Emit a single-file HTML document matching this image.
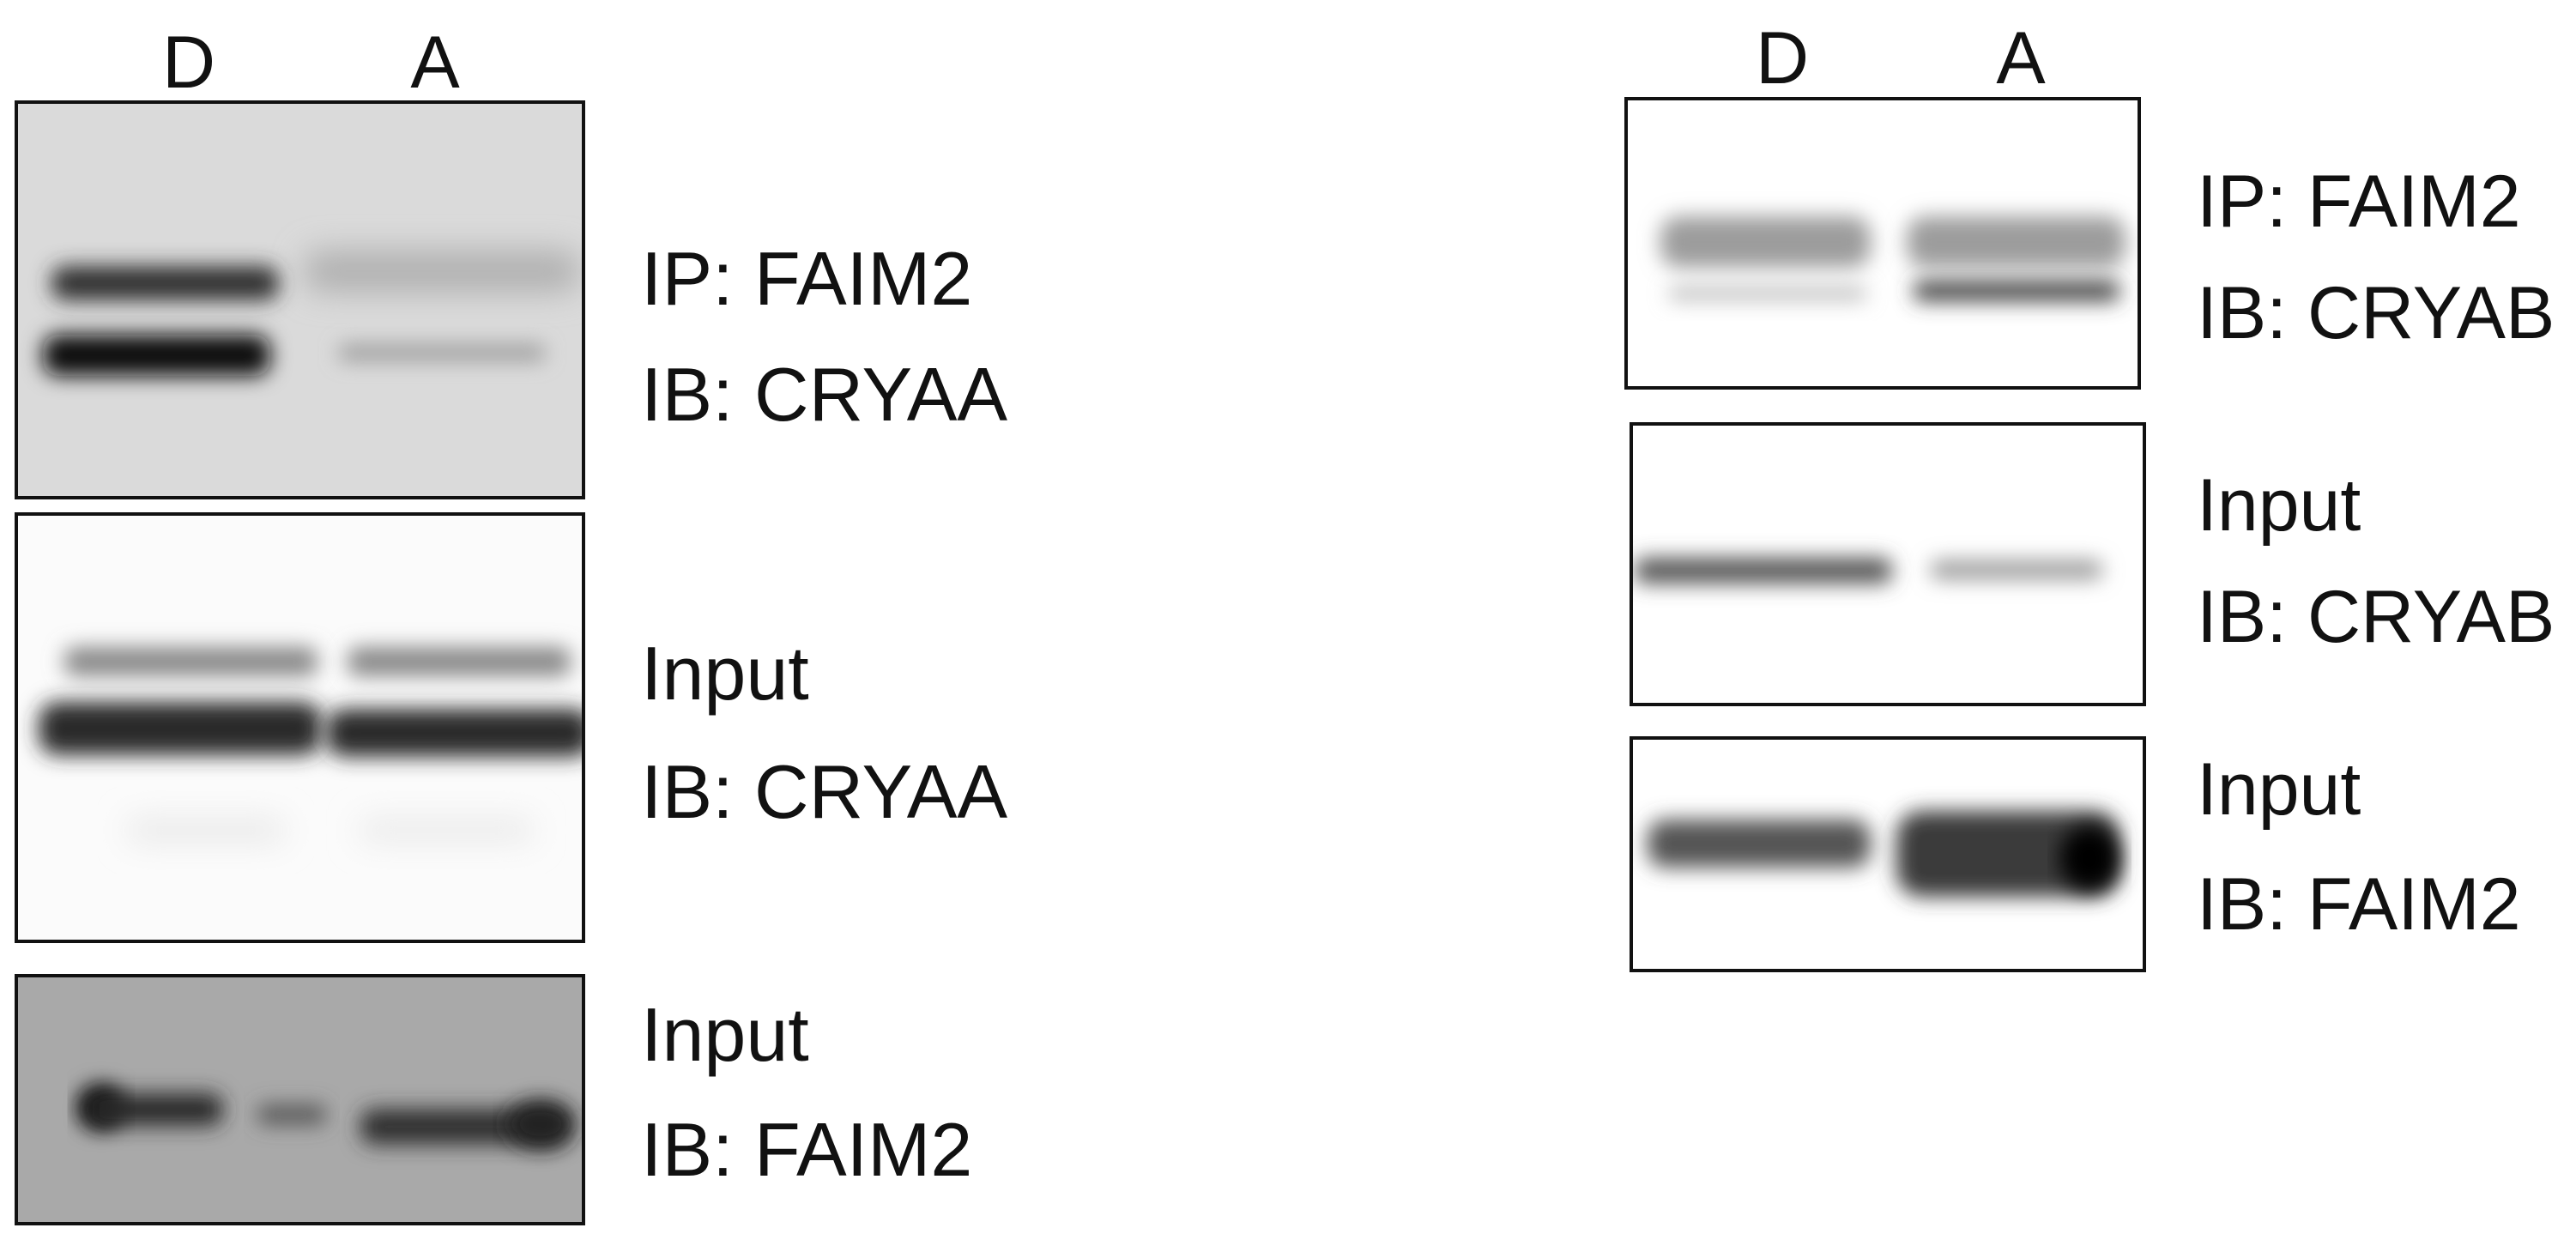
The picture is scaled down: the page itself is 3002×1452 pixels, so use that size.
<!DOCTYPE html>
<html><head><meta charset="utf-8"><style>
html,body{margin:0;padding:0;background:#fff}
svg{display:block}
text{font-family:"Liberation Sans",sans-serif;fill:#111}
</style></head><body>
<svg width="3002" height="1452" viewBox="0 0 3002 1452" xmlns="http://www.w3.org/2000/svg">
<defs>
<filter id="b1" x="-20%" y="-150%" width="140%" height="400%"><feGaussianBlur stdDeviation="12"/></filter>
<filter id="b2" x="-20%" y="-150%" width="140%" height="400%"><feGaussianBlur stdDeviation="18"/></filter>
<clipPath id="c1"><rect x="19" y="119" width="661" height="461"/></clipPath>
<clipPath id="c2"><rect x="19" y="599" width="661" height="498"/></clipPath>
<clipPath id="c3"><rect x="19" y="1137" width="661" height="289"/></clipPath>
<clipPath id="c4"><rect x="1895" y="115" width="598" height="337"/></clipPath>
<clipPath id="c5"><rect x="1901" y="494" width="598" height="327"/></clipPath>
<clipPath id="c6"><rect x="1901" y="860" width="598" height="271"/></clipPath>
</defs>
<g font-size="86" text-anchor="middle">
<text x="220" y="102">D</text><text x="507" y="102">A</text>
<text x="2077" y="97">D</text><text x="2355" y="97">A</text>
</g>
<rect x="19" y="119" width="661" height="461" fill="#dadada"/>
<g clip-path="url(#c1)">
<rect x="60" y="310" width="265" height="40" rx="16" fill="#333" filter="url(#b1)"/>
<rect x="355" y="292" width="320" height="48" rx="18" fill="#b0b0b0" filter="url(#b2)"/>
<rect x="50" y="390" width="265" height="48" rx="18" fill="#0c0c0c" filter="url(#b1)"/>
<rect x="395" y="402" width="240" height="18" rx="7" fill="#999" filter="url(#b1)"/>
</g>
<rect x="19" y="119" width="661" height="461" fill="none" stroke="#111" stroke-width="4"/>
<rect x="19" y="599" width="661" height="498" fill="#fbfbfb"/>
<g clip-path="url(#c2)">
<rect x="75" y="754" width="295" height="34" rx="12" fill="#888" filter="url(#b1)"/>
<rect x="405" y="754" width="260" height="34" rx="12" fill="#888" filter="url(#b1)"/>
<rect x="45" y="818" width="330" height="62" rx="22" fill="#2a2a2a" filter="url(#b1)"/>
<rect x="380" y="826" width="310" height="56" rx="22" fill="#2a2a2a" filter="url(#b1)"/>
<rect x="150" y="955" width="180" height="25" fill="#e6e6e6" filter="url(#b2)"/>
<rect x="420" y="955" width="200" height="25" fill="#e8e8e8" filter="url(#b2)"/>
</g>
<rect x="19" y="599" width="661" height="498" fill="none" stroke="#111" stroke-width="4"/>
<rect x="19" y="1137" width="661" height="289" fill="#a9a9a9"/>
<g clip-path="url(#c3)">
<ellipse cx="118" cy="1290" rx="28" ry="26" fill="#050505" filter="url(#b1)"/>
<rect x="100" y="1274" width="160" height="38" rx="16" fill="#2a2a2a" filter="url(#b1)"/>
<rect x="300" y="1288" width="80" height="22" rx="9" fill="#555" filter="url(#b1)"/>
<rect x="420" y="1292" width="240" height="42" rx="16" fill="#333" filter="url(#b1)"/>
<ellipse cx="630" cy="1310" rx="40" ry="28" fill="#222" filter="url(#b1)"/>
</g>
<rect x="19" y="1137" width="661" height="289" fill="none" stroke="#111" stroke-width="4"/>
<g font-size="88">
<text x="747" y="355">IP: FAIM2</text>
<text x="747" y="490">IB: CRYAA</text>
<text x="747" y="815">Input</text>
<text x="747" y="953">IB: CRYAA</text>
<text x="747" y="1236">Input</text>
<text x="747" y="1370">IB: FAIM2</text>
</g>
<rect x="1895" y="115" width="598" height="337" fill="#fff"/>
<g clip-path="url(#c4)">
<rect x="1935" y="252" width="245" height="60" rx="22" fill="#9c9c9c" filter="url(#b1)"/>
<rect x="2222" y="252" width="255" height="60" rx="22" fill="#9c9c9c" filter="url(#b1)"/>
<rect x="1945" y="334" width="230" height="16" rx="6" fill="#bbb" filter="url(#b1)"/>
<rect x="2230" y="327" width="240" height="24" rx="9" fill="#444" filter="url(#b1)"/>
</g>
<rect x="1895" y="115" width="598" height="337" fill="none" stroke="#111" stroke-width="4"/>
<rect x="1901" y="494" width="598" height="327" fill="#fff"/>
<g clip-path="url(#c5)">
<rect x="1905" y="650" width="300" height="30" rx="12" fill="#555" filter="url(#b1)"/>
<rect x="2250" y="653" width="200" height="22" rx="9" fill="#999" filter="url(#b1)"/>
</g>
<rect x="1901" y="494" width="598" height="327" fill="none" stroke="#111" stroke-width="4"/>
<rect x="1901" y="860" width="598" height="271" fill="#fff"/>
<g clip-path="url(#c6)">
<rect x="1920" y="955" width="260" height="56" rx="20" fill="#555" filter="url(#b1)"/>
<rect x="2210" y="945" width="260" height="100" rx="30" fill="#3a3a3a" filter="url(#b1)"/>
<ellipse cx="2435" cy="1000" rx="35" ry="38" fill="#050505" filter="url(#b1)"/>
</g>
<rect x="1901" y="860" width="598" height="271" fill="none" stroke="#111" stroke-width="4"/>
<g font-size="86">
<text x="2560" y="264">IP: FAIM2</text>
<text x="2560" y="394">IB: CRYAB</text>
<text x="2560" y="618">Input</text>
<text x="2560" y="748">IB: CRYAB</text>
<text x="2560" y="949">Input</text>
<text x="2560" y="1083">IB: FAIM2</text>
</g>
</svg>
</body></html>
